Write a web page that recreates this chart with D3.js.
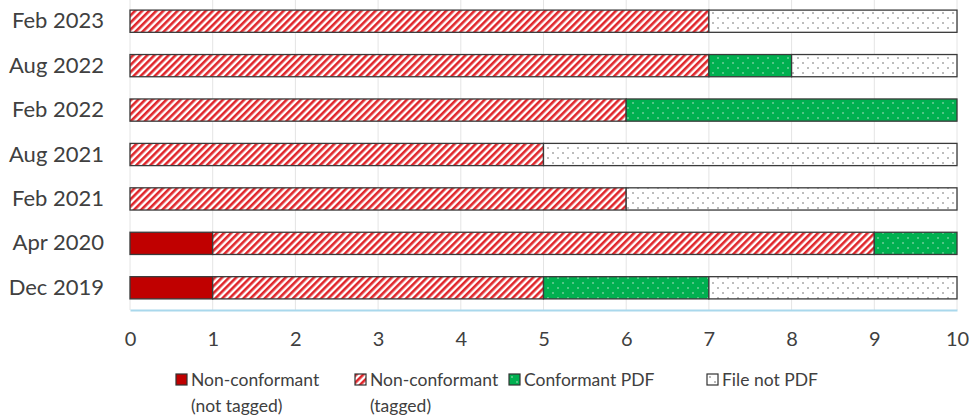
<!DOCTYPE html>
<html lang="en">
<head>
    <meta charset="UTF-8">
    <title>PDF conformance</title>
    <script src="https://d3js.org/d3.v7.min.js"></script>
    <style>
        body { margin: 0; background: #fff; }
        text { font-family: Lato, "Open Sans", sans-serif; fill: #404040; }
    </style>
</head>
<body>

<script>
    periods = ["Feb 2023", "Aug 2022", "Feb 2022", "Aug 2021", "Feb 2021", "Apr 2020", "Dec 2019"]
    notTagged = [0, 0, 0, 0, 0, 1, 1]
    tagged = [7, 7, 6, 5, 6, 8, 4]
    conformant = [0, 1, 4, 0, 0, 1, 2]
    notPdf = [3, 2, 0, 5, 4, 0, 3]
    xTicks = [0, 1, 2, 3, 4, 5, 6, 7, 8, 9, 10]

    seriesNames = ["Non-conformant (not tagged)", "Non-conformant (tagged)", "Conformant PDF", "File not PDF"]
    seriesVals = [notTagged, tagged, conformant, notPdf]
    fills = ["#c00000", "url(#hatch)", "url(#dotsGreen)", "url(#dotsWhite)"]

    w = 969
    h = 418
    margin = {top: 0, right: 12, bottom: 108, left: 130}
    width = w - margin.left - margin.right
    height = h - margin.top - margin.bottom

    root = d3.select("body")
        .append("svg")
        .attr("width", w)
        .attr("height", h)

    defs = root.append("defs")
    hatch = defs.append("pattern")
        .attr("id", "hatch")
        .attr("patternUnits", "userSpaceOnUse")
        .attr("width", 5).attr("height", 5)
        .attr("patternTransform", "rotate(45)")
    hatch.append("rect").attr("width", 5).attr("height", 5).attr("fill", "#fff")
    hatch.append("rect").attr("width", 2.6).attr("height", 5).attr("fill", "#e0262b")

    dg = defs.append("pattern")
        .attr("id", "dotsGreen")
        .attr("patternUnits", "userSpaceOnUse")
        .attr("width", 10).attr("height", 10)
    dg.append("rect").attr("width", 10).attr("height", 10).attr("fill", "#00b050")
    dg.append("circle").attr("cx", 3).attr("cy", 3).attr("r", 0.8).attr("fill", "#b8e6c8")
    dg.append("circle").attr("cx", 8).attr("cy", 8).attr("r", 0.8).attr("fill", "#b8e6c8")

    dw = defs.append("pattern")
        .attr("id", "dotsWhite")
        .attr("patternUnits", "userSpaceOnUse")
        .attr("width", 10).attr("height", 10)
    dw.append("rect").attr("width", 10).attr("height", 10).attr("fill", "#fff")
    dw.append("circle").attr("cx", 3).attr("cy", 3).attr("r", 0.8).attr("fill", "#666")
    dw.append("circle").attr("cx", 8).attr("cy", 8).attr("r", 0.8).attr("fill", "#666")

    svg = root.append("g")
        .attr("transform", "translate(" + margin.left + "," + margin.top + ")")

    x = d3.scaleLinear().domain([0, 10]).range([0, width])
    y = d3.scaleBand().domain(periods).range([-1, height]).paddingInner(0.5).paddingOuter(0.25)

    // gridlines
    svg.append("g")
        .selectAll("line")
        .data(xTicks)
        .join("line")
        .attr("x1", d => x(d)).attr("x2", d => x(d))
        .attr("y1", 0).attr("y2", height)
        .attr("stroke", "#e4e4e4")
        .attr("stroke-width", 1)

    // stacked rows
    rows = periods.map((p, i) => {
        let acc = 0
        return seriesVals.map((vals, s) => {
            let seg = {period: p, s: s, x0: acc, x1: acc + vals[i]}
            acc += vals[i]
            return seg
        }).filter(d => d.x1 > d.x0)
    }).flat()

    svg.append("g")
        .selectAll("rect")
        .data(rows)
        .join("rect")
        .attr("x", d => x(d.x0))
        .attr("y", d => y(d.period))
        .attr("width", d => x(d.x1) - x(d.x0))
        .attr("height", y.bandwidth())
        .attr("fill", d => fills[d.s])
        .attr("stroke", "#3a3a3a")
        .attr("stroke-width", 1.3)

    // x axis
    xAxis = svg.append("g")
        .attr("transform", "translate(0," + height + ")")
        .call(d3.axisBottom(x).tickValues(xTicks).tickSize(0).tickPadding(22).tickFormat(d3.format("d")))
    xAxis.select(".domain").attr("stroke", "#a9d8ec").attr("stroke-width", 2)
    xAxis.selectAll("text").style("font-size", "20px").attr("fill", "#404040")

    // y axis labels
    yAxis = svg.append("g")
        .call(d3.axisLeft(y).tickSize(0).tickPadding(26))
    yAxis.select(".domain").remove()
    yAxis.selectAll("text").style("font-size", "22px").attr("fill", "#404040")

    // legend
    legendX = [176, 355, 509, 707]
    legend = root.append("g")
    seriesNames.forEach((name, i) => {
        let g = legend.append("g").attr("transform", "translate(" + legendX[i] + ",374)")
        g.append("rect").attr("width", 11).attr("height", 11)
            .attr("fill", fills[i]).attr("stroke", "#333").attr("stroke-width", 1.2)
        let parts = name.match(/^(.*?) (\(.*\))$/)
        let lines = parts ? [parts[1], parts[2]] : [name]
        lines.forEach((ln, j) => {
            g.append("text").attr("x", 15).attr("y", 12 + j * 26)
                .style("font-size", "17.5px").text(ln)
        })
    })
</script>

</body>
</html>
